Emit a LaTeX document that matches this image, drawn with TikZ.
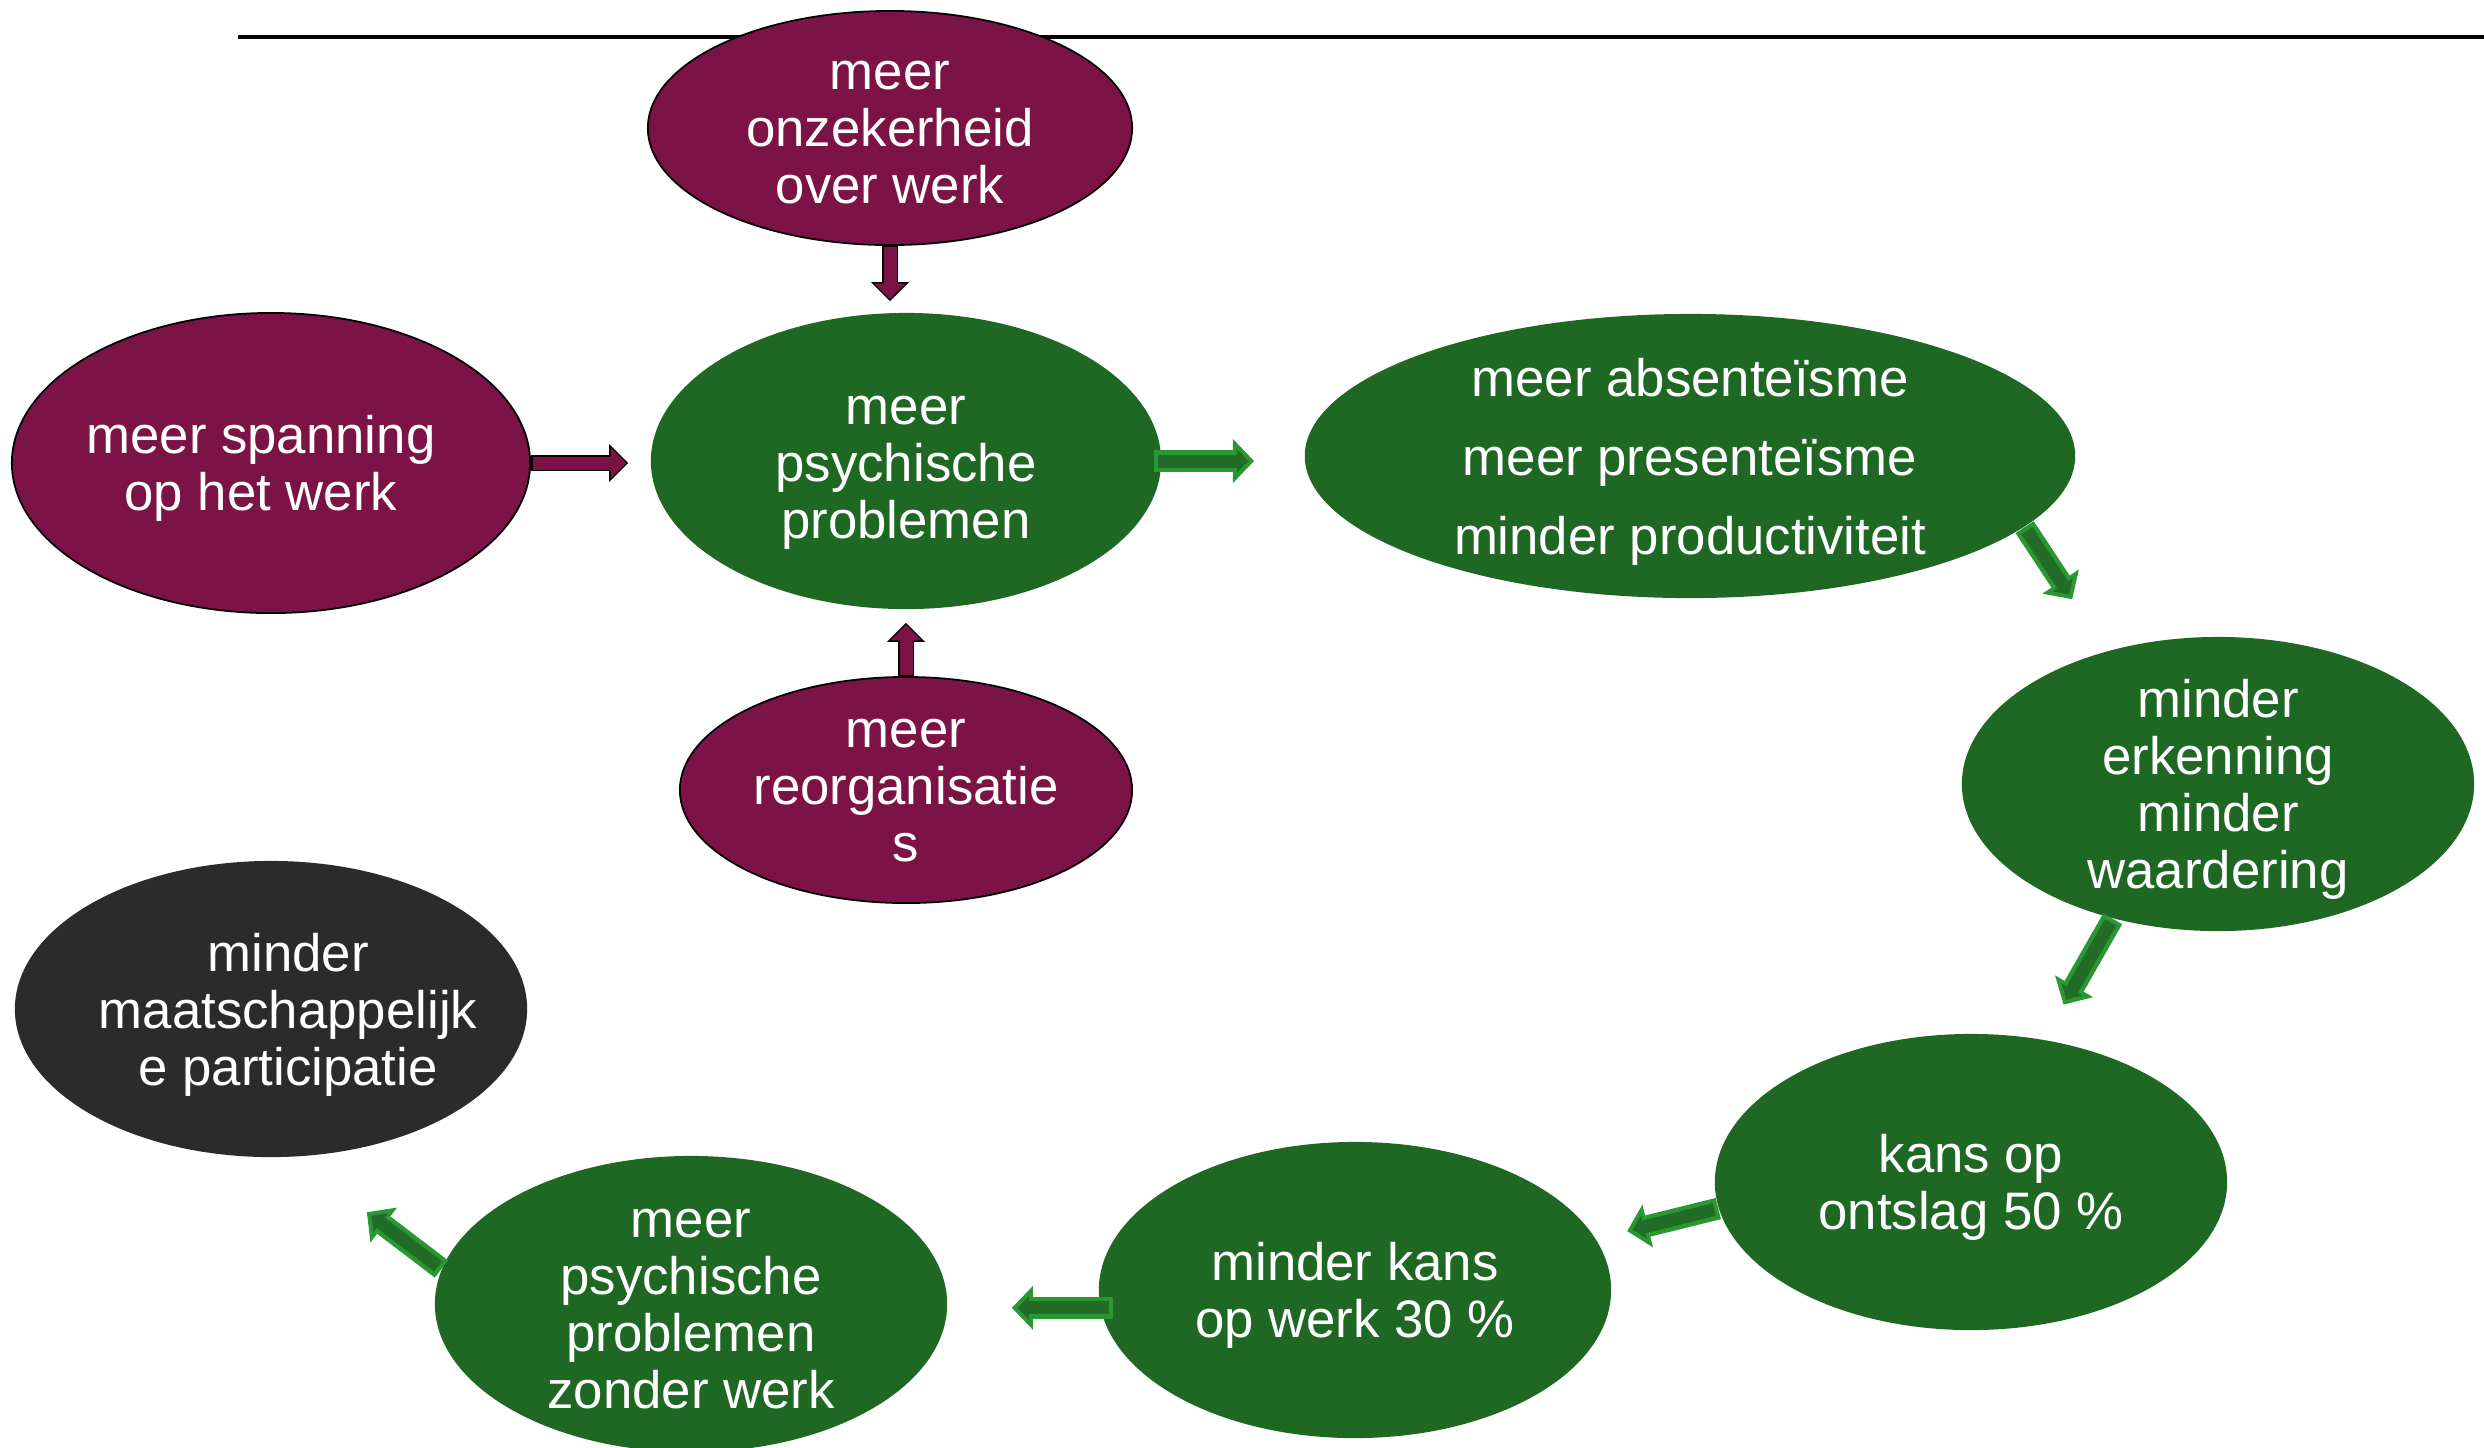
\documentclass[tikz,border=0pt]{standalone}
\usepackage{fontspec}
\setmainfont{Liberation Sans}
\usepackage{tikz}
\usetikzlibrary{shapes.geometric,arrows.meta}
\definecolor{wine}{RGB}{123,19,70}
\definecolor{leaf}{RGB}{31,104,36}
\definecolor{coal}{RGB}{43,43,43}
\definecolor{gfill}{RGB}{33,108,38}
\definecolor{gline}{RGB}{42,152,50}
\begin{document}
\begin{tikzpicture}[x=0.01cm,y=-0.01cm,
    bubble/.style={shape=ellipse,inner xsep=-6pt,inner ysep=-4pt,text=white,align=center,
      font=\fontsize{15}{16.2}\selectfont,minimum width=5.12cm,minimum height=2.96cm,text depth=0pt},
    cause/.style={bubble,fill=wine,draw=black,line width=0.5pt},
    effect/.style={bubble,fill=leaf},
    lift/.style={execute at begin node={\rule{0pt}{#1}}},
    warr/.style 2 args={draw=black,line width=4.55pt,shorten <=#1,shorten >=#2,
      -{Triangle[length=5.4pt,width=10.8pt,line width=0pt]},
      postaction={draw=wine,line width=3.7pt,shorten <=#1+0.43pt,shorten >=#2+0.6pt,
        -{Triangle[length=4.38pt,width=8.76pt,line width=0pt]}}},
    garr/.style 2 args={draw=gline,line width=6.2pt,shorten <=#1,shorten >=#2,
      -{Triangle[length=6pt,width=12.5pt,line width=0pt]},
      postaction={draw=gfill,line width=3.7pt,shorten <=#1+1.2pt,shorten >=#2+1.6pt,
        -{Triangle[length=3.3pt,width=6.8pt,line width=0pt]}}}]
    \useasboundingbox (0,0) rectangle (2484,1447);
    \draw[line width=0.9pt] (238,37) -- (2484,37);

    \node[cause,minimum width=4.84cm,minimum height=2.34cm,lift=43pt] (onz) at (890,128) {meer\\onzekerheid\\over werk};
    \node[cause,minimum width=5.18cm,minimum height=3cm,execute at end node={\hspace*{5.7pt}}] (span) at (271,463) {meer spanning\\op het werk};
    \node[effect,minimum width=5.1cm,lift=44pt] (psy) at (906,461) {meer\\psychische\\problemen};
    \node[cause,minimum width=4.52cm,minimum height=2.26cm] (reorg) at (906,790) {meer\\reorganisatie\\s};
    \node[effect,minimum width=7.7cm,minimum height=2.84cm] (abs) at (1690,456) {meer absenteïsme\\[6.3pt]meer presenteïsme\\[6.3pt]minder productiviteit};
    \node[effect,minimum height=2.94cm] (erk) at (2218,784) {minder\\erkenning\\minder\\waardering};
    \node[effect] (ontslag) at (1971,1182) {kans op\\ontslag 50 \%};
    \node[effect] (mkans) at (1355,1290) {minder kans\\op werk 30 \%};
    \node[effect,lift=59.3pt] (zwerk) at (691,1304) {meer\\psychische\\problemen\\zonder werk};
    \node[bubble,fill=coal,inner xsep=-9pt,execute at begin node={\hspace*{9.7pt}}] (maat) at (271,1009) {minder\\maatschappelijk\\e participatie};

    \draw[warr={0pt}{0.11cm}] (onz.south) -- (onz.south |- psy.north);
    \draw[warr={0pt}{0.22cm}] (span.east) -- (span.east -| psy.west);
    \draw[warr={0pt}{0.13cm}] (reorg.north) -- (reorg.north |- psy.south);
    \draw[garr={-0.08cm}{0.5cm}] (psy.east) -- (psy.east -| abs.west);
    \draw[garr={0pt}{0.62cm}] (abs.-12) -- (erk.130);
    \draw[garr={0pt}{0.4cm}] (erk.-128) -- (ontslag.63);
    \draw[garr={0pt}{0.32cm}] (ontslag.186) -- (mkans.12);
    \draw[garr={-0.13cm}{0.64cm}] (mkans.184) -- (mkans.184 -| zwerk.east);
    \draw[garr={0pt}{0.91cm}] (zwerk.172) -- (maat.-81);
\end{tikzpicture}
\end{document}
